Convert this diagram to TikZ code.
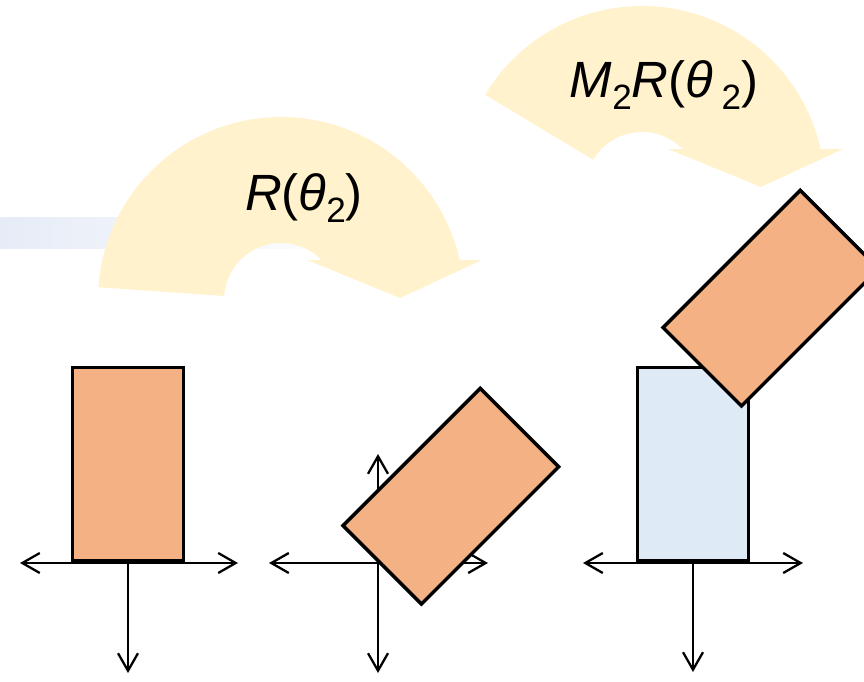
\documentclass[tikz,border=0pt]{standalone}
\usepackage{fontspec}
\setmainfont{Liberation Sans}
\usepackage{xcolor}
\usepackage{tikz}
\usetikzlibrary{arrows.meta,calc}

\definecolor{linkorange}{HTML}{F4B183}
\definecolor{baseblue}{HTML}{DEEBF7}
\definecolor{turnyellow}{HTML}{FFF2CC}
\definecolor{barblue}{HTML}{E6ECF7}

\newcommand{\lowsub}[1]{\raisebox{-0.25em}{\fontsize{20}{20}\selectfont #1}}
% curved turn arrow: #1 centre, #2 start angle
\newcommand{\turnarrow}[2]{%
  \fill[turnyellow, shift={#1}] (#2:183) arc[start angle=#2, end angle=12.63, radius=183]
    -- (201,40) -- (119,2) -- (26,40) -- (40.6,40)
    arc[start angle=44.57, end angle=#2, radius=57] -- cycle;}

\begin{document}
\begin{tikzpicture}[x=0.02cm, y=0.02cm, >={Straight Barb[length=3.5mm,width=4mm]},
  linkbox/.style={draw, line width=2pt, fill=linkorange, minimum width=2.22cm, minimum height=3.88cm, inner sep=0pt},
  basebox/.style={linkbox, fill=baseblue},
  axisline/.style={line width=1.3pt},
  turnlabel/.style={font=\fontsize{29}{32}\selectfont, anchor=base, inner sep=0pt}]
  \useasboundingbox (0,0) rectangle (864,681);

  % faded bar and turn arrows
  \shade[left color=barblue, right color=white] (0,433) rectangle (375,464);
  \turnarrow{(281,381)}{176}
  \turnarrow{(642,492)}{149}
  \node[turnlabel] (lbl1) at (304,471) {\textit{R}(\textit{θ}\lowsub{2})};
  \node[turnlabel] (lbl2) at (664,584) {\textit{M}\lowsub{2}\textit{R}(\textit{θ}\,\lowsub{2})};

  % frames
  \coordinate (o1) at (128,118);
  \coordinate (x1l) at (20,118);
  \coordinate (x1r) at (238,118);
  \coordinate (y1d) at (128,8);
  \coordinate (o2) at (378,118);
  \coordinate (x2l) at (269,118);
  \coordinate (x2r) at (488,118);
  \coordinate (y2u) at (378,227);
  \coordinate (y2d) at (378,8);
  \coordinate (o3) at (693,118);
  \coordinate (x3l) at (583,118);
  \coordinate (x3r) at (803,118);
  \coordinate (y3d) at (693,9);

  \draw[axisline, <->] (x1l) -- (x1r);
  \draw[axisline, ->] (o1) -- (y1d);
  \draw[axisline, <->] (x2l) -- (x2r);
  \draw[axisline, <->] (y2u) -- (y2d);
  \draw[axisline, <->] (x3l) -- (x3r);
  \draw[axisline, ->] (o3) -- (y3d);

  % links
  \node[linkbox, anchor=south] (link1) at (o1) {};
  \node[linkbox, rotate=-45, anchor=south] (link2) at (381,115) {};
  \node[basebox, anchor=south] (base3) at (o3) {};
  \node[linkbox, rotate=-45, anchor=south] (link3) at (701,313) {};
\end{tikzpicture}
\end{document}
